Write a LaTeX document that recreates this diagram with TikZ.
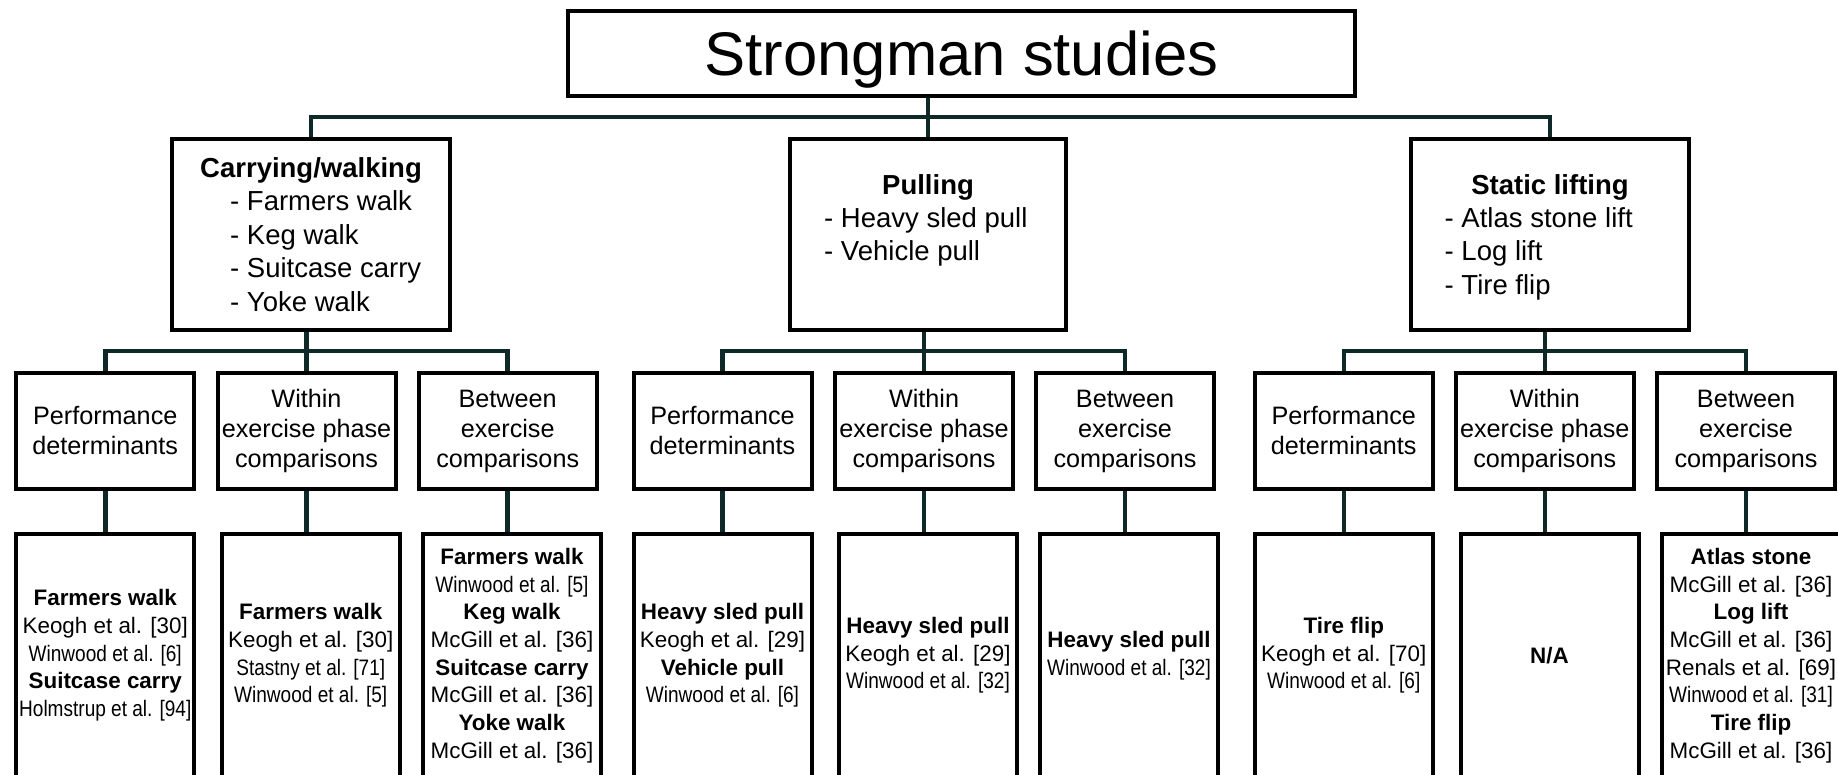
\documentclass[tikz,border=0pt]{standalone}
\usepackage{fontspec}
\setmainfont{Liberation Sans}
\usepackage{graphicx}
\usetikzlibrary{backgrounds}
\definecolor{conncol}{HTML}{0F2828}
\newcommand{\cnd}[1]{\scalebox{0.85}[1]{#1}}
\begin{document}
\begin{tikzpicture}[x=1pt,y=-1pt,
  box/.style={draw=black, line width=4pt, fill=white, inner sep=0pt, outer sep=0pt, align=center},
  conn/.style={draw=conncol, line width=4.5pt, line join=miter},
  lvtwo/.style={box, minimum height=191pt},
  lvthree/.style={box, minimum width=178pt, minimum height=116pt, font=\fontsize{25.2}{30}\selectfont},
  lvfour/.style={box, minimum width=178pt, minimum height=243pt, font=\fontsize{22.4}{27.7}\selectfont},
  ttwo/.style={inner sep=0pt, font=\fontsize{27.5}{33.4}\selectfont}]
\useasboundingbox (0,0) rectangle (1838,775);
\clip (0,0) rectangle (1838,775);

% title
\node[box, minimum width=787pt, minimum height=85pt] (title) at (961.5,53.5) {};
\node[inner sep=0pt, anchor=base, font=\fontsize{61.6}{70}\selectfont] (titletext) at (961.5,76) {Strongman studies};

% level 2
\node[lvtwo, minimum width=278pt] (C) at (311,234.5) {};
\node[lvtwo, minimum width=276pt] (P) at (928,234.5) {};
\node[lvtwo, minimum width=278pt] (S) at (1550,234.5) {};

\node[ttwo, anchor=base] (c0) at (311,177.5) {\textbf{Carrying/walking}};
\node[ttwo, anchor=base west] (c1) at (230,210.9) {- Farmers walk};
\node[ttwo, anchor=base west] (c2) at (230,244.3) {- Keg walk};
\node[ttwo, anchor=base west] (c3) at (230,277.7) {- Suitcase carry};
\node[ttwo, anchor=base west] (c4) at (230,311.1) {- Yoke walk};

\node[ttwo, anchor=base] (p0) at (928,194.2) {\textbf{Pulling}};
\node[ttwo, anchor=base west] (p1) at (824,227.6) {- Heavy sled pull};
\node[ttwo, anchor=base west] (p2) at (824,261.0) {- Vehicle pull};

\node[ttwo, anchor=base] (s0) at (1550,194.2) {\textbf{Static lifting}};
\node[ttwo, anchor=base west] (s1) at (1444.5,227.6) {- Atlas stone lift};
\node[ttwo, anchor=base west] (s2) at (1444.5,261.0) {- Log lift};
\node[ttwo, anchor=base west] (s3) at (1444.5,294.4) {- Tire flip};

% level 3
\node[lvthree] (L1) at (105.25,431) {Performance\\determinants};
\node[lvthree] (L2) at (306.5,431) {Within\\exercise phase\\comparisons};
\node[lvthree] (L3) at (507.7,431) {Between\\exercise\\comparisons};
\node[lvthree] (M1) at (722.5,431) {Performance\\determinants};
\node[lvthree] (M2) at (924,431) {Within\\exercise phase\\comparisons};
\node[lvthree] (M3) at (1125,431) {Between\\exercise\\comparisons};
\node[lvthree] (R1) at (1343.75,431) {Performance\\determinants};
\node[lvthree] (R2) at (1544.75,431) {Within\\exercise phase\\comparisons};
\node[lvthree] (R3) at (1746,431) {Between\\exercise\\comparisons};

% level 4
\node[lvfour] (B1) at (105.25,655.5) {\textbf{Farmers walk}\\Keogh et al. [30]\\\cnd{Winwood et al. [6]}\\\textbf{Suitcase carry}\\\cnd{Holmstrup et al. [94]}};
\node[lvfour] (B2) at (310.75,655.5) {\textbf{Farmers walk}\\Keogh et al. [30]\\\cnd{Stastny et al. [71]}\\\cnd{Winwood et al. [5]}};
\node[lvfour] (B3) at (512,655.5) {\textbf{Farmers walk}\\\cnd{Winwood et al. [5]}\\\textbf{Keg walk}\\McGill et al. [36]\\\textbf{Suitcase carry}\\McGill et al. [36]\\\textbf{Yoke walk}\\McGill et al. [36]};
\node[lvfour] (B4) at (722.5,655.5) {\textbf{Heavy sled pull}\\Keogh et al. [29]\\\textbf{Vehicle pull}\\\cnd{Winwood et al. [6]}};
\node[lvfour] (B5) at (928,655.5) {\textbf{Heavy sled pull}\\Keogh et al. [29]\\\cnd{Winwood et al. [32]}};
\node[lvfour] (B6) at (1129,655.5) {\textbf{Heavy sled pull}\\\cnd{Winwood et al. [32]}};
\node[lvfour] (B7) at (1343.75,655.5) {\textbf{Tire flip}\\Keogh et al. [70]\\\cnd{Winwood et al. [6]}};
\node[lvfour] (B8) at (1549.5,655.5) {\textbf{N/A}};
\node[lvfour] (B9) at (1751,655.5) {\textbf{Atlas stone}\\McGill et al. [36]\\\textbf{Log lift}\\McGill et al. [36]\\Renals et al. [69]\\\cnd{Winwood et al. [31]}\\\textbf{Tire flip}\\McGill et al. [36]};

% connectors
\coordinate (bus0) at (928,117);
\coordinate (busL) at (306.5,351);
\coordinate (busM) at (924,351);
\coordinate (busR) at (1544.75,351);
\begin{pgfonlayer}{background}
\fill[white] (0,0) rectangle (1838,775);
\draw[conn] (title.south -| P.north) -- (P.north);
\draw[conn] (C.north) |- (bus0) -| (S.north);

\draw[conn] (C.south -| L2.north) -- (L2.north);
\draw[conn] (L1.north) |- (busL) -| (L3.north);
\draw[conn] (P.south -| M2.north) -- (M2.north);
\draw[conn] (M1.north) |- (busM) -| (M3.north);
\draw[conn] (S.south -| R2.north) -- (R2.north);
\draw[conn] (R1.north) |- (busR) -| (R3.north);

\foreach \a/\b in {L1/B1,L2/B2,L3/B3,M1/B4,M2/B5,M3/B6,R1/B7,R2/B8,R3/B9}{
  \draw[conn] (\a.south) -- (\a.south |- \b.north);
}
\end{pgfonlayer}
\end{tikzpicture}
\end{document}
